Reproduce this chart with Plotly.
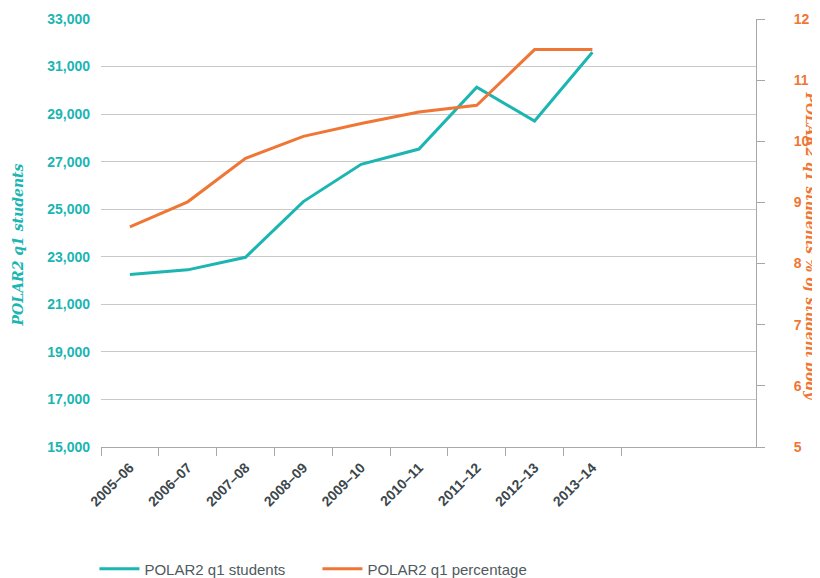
import plotly.graph_objects as go

years = ["2005–06", "2006–07", "2007–08", "2008–09", "2009–10",
         "2010–11", "2011–12", "2012–13", "2013–14"]
students = [22250, 22450, 22980, 25320, 26890, 27530, 30130, 28710, 31600]
percentage = [8.60, 9.01, 9.72, 10.08, 10.29, 10.48, 10.59, 11.50, 11.50]

TEAL = "#1bb5b2"
ORANGE = "#ef7634"
GRID = "#c9c9c9"
AXIS = "#a8a8a8"
XTEXT = "#3c474c"

fig = go.Figure()
fig.add_trace(go.Scatter(x=years, y=students, name="POLAR2 q1 students",
                         mode="lines", line=dict(color=TEAL, width=3), yaxis="y"))
fig.add_trace(go.Scatter(x=years, y=percentage, name="POLAR2 q1 percentage",
                         mode="lines", line=dict(color=ORANGE, width=3), yaxis="y2"))

fig.update_layout(
    width=812, height=570,
    margin=dict(l=93, r=64, t=11, b=131, autoexpand=False),
    paper_bgcolor="white", plot_bgcolor="white",
    showlegend=True,
    legend=dict(orientation="h", x=-0.01, y=-0.285, xanchor="left", yanchor="middle",
                font=dict(family="Liberation Sans, Arial, sans-serif", size=15, color="#4f5a5e"),
                itemwidth=40, entrywidth=168, entrywidthmode="pixels", traceorder="normal"),
    xaxis=dict(type="category", range=[-0.5, 10.83], tickson="boundaries",
               ticks="outside", ticklen=8, tickcolor=AXIS, showline=True, linecolor=AXIS,
               linewidth=1, showgrid=False, zeroline=False, tickangle=-45, automargin=False,
               ticklabelstandoff=6,
               tickfont=dict(family="Liberation Sans, Arial, sans-serif",
                             size=14, color=XTEXT, weight="bold")),
    yaxis=dict(range=[15000, 33000], dtick=2000, tick0=15000, tickformat=",",
               showgrid=True, gridcolor=GRID, gridwidth=1, zeroline=False, automargin=False,
               showline=False, ticks="", ticklabelstandoff=10,
               tickfont=dict(family="Liberation Sans, Arial, sans-serif", size=14, color=TEAL,
                             weight="bold")),
    yaxis2=dict(range=[5, 12], dtick=1, overlaying="y", side="right", showgrid=False,
                zeroline=False, showline=True, linecolor=AXIS, linewidth=1, automargin=False,
                ticks="outside", ticklen=8, tickcolor=AXIS, ticklabelstandoff=26,
                tickfont=dict(family="Liberation Sans, Arial, sans-serif", size=14, color=ORANGE,
                              weight="bold")),
    annotations=[
        dict(text="POLAR2 q1 students", xref="paper", yref="paper",
             x=-0.1267, y=0.471, xanchor="center", yanchor="middle", textangle=-90,
             showarrow=False,
             font=dict(family="DejaVu Serif, serif", size=14, color=TEAL,
                       weight="bold", style="italic")),
        dict(text="POLAR2 q1 students % of student body", xref="paper", yref="paper",
             x=1.084, y=0.471, xanchor="center", yanchor="middle", textangle=90,
             showarrow=False,
             font=dict(family="DejaVu Serif, serif", size=14, color=ORANGE,
                       weight="bold", style="italic")),
    ],
)

fig.write_html("out.html")
